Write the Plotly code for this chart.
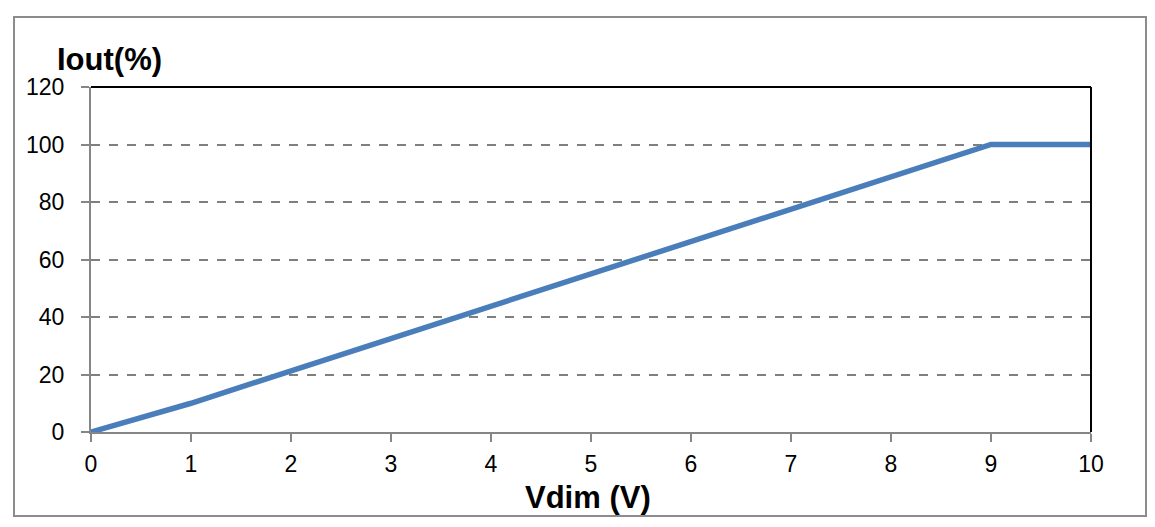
import plotly.graph_objects as go

vdim = [0, 1, 9, 10]
iout = [0, 10, 100, 100]
x_ticks = list(range(0, 11))
y_ticks = [0, 20, 40, 60, 80, 100, 120]

font_family = "Liberation Sans, Arial, sans-serif"

fig = go.Figure()
fig.add_trace(go.Scatter(x=vdim, y=iout, mode="lines",
                         line=dict(color="#4a7ebb", width=5.5)))

fig.update_xaxes(range=[0, 10], tickvals=x_ticks, showgrid=False,
                 showline=True, linecolor="#868686", linewidth=2,
                 ticks="outside", ticklen=8, tickwidth=2, tickcolor="#868686",
                 ticklabelstandoff=2,
                 tickfont=dict(size=23, color="black"), zeroline=False)
fig.update_yaxes(range=[0, 120], tickvals=y_ticks, showgrid=True,
                 gridcolor="#7f7f7f", griddash="dash", gridwidth=1.6,
                 showline=True, linecolor="#868686", linewidth=2,
                 ticks="outside", ticklen=8, tickwidth=2, tickcolor="#868686",
                 ticklabelstandoff=12,
                 tickfont=dict(size=23, color="black"), zeroline=False)

# black top and right edges of the plot area
fig.add_shape(type="line", xref="paper", yref="paper", x0=0, x1=1, y0=1, y1=1,
              line=dict(color="black", width=2))
fig.add_shape(type="line", xref="paper", yref="paper", x0=1, x1=1, y0=0, y1=1,
              line=dict(color="black", width=2))
# outer frame
fig.add_shape(type="rect", xref="paper", yref="paper",
              x0=-0.077, x1=1.055, y0=-0.2435, y1=1.203,
              line=dict(color="#8c8c8c", width=2))

fig.add_annotation(text="<b>Iout(%)</b>", xref="paper", yref="paper",
                   x=-0.036, y=1.081, xanchor="left", yanchor="middle",
                   showarrow=False, font=dict(size=31, color="black"))
fig.add_annotation(text="<b>Vdim (V)</b>", xref="paper", yref="paper",
                   x=0.497, y=-0.19, xanchor="center", yanchor="middle",
                   showarrow=False, font=dict(size=31, color="black"))

fig.update_layout(width=1155, height=527,
                  margin=dict(l=83, r=72, t=79, b=103),
                  paper_bgcolor="white", plot_bgcolor="white",
                  showlegend=False, font=dict(family=font_family))

fig.write_html("out.html")
